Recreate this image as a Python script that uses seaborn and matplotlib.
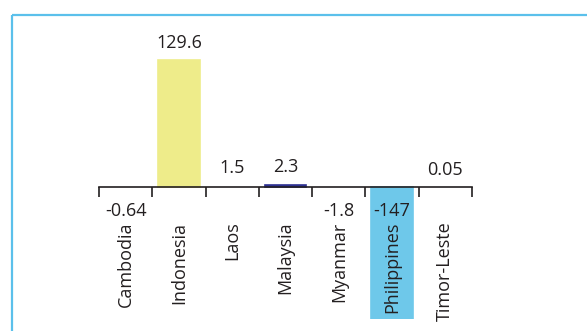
import matplotlib
matplotlib.use("Agg")
import matplotlib.pyplot as plt
from matplotlib.lines import Line2D
import seaborn as sns
import pandas as pd

# Net change by country
countries = ["Cambodia", "Indonesia", "Laos", "Malaysia", "Myanmar", "Philippines", "Timor-Leste"]
values = [-0.64, 129.6, 1.5, 2.3, -1.8, -147, 0.05]
value_labels = ["-0.64", "129.6", "1.5", "2.3", "-1.8", "-147", "0.05"]
bar_colors = ["#FFFFFF", "#EEEC8A", "#FFFFFF", "#2E3192", "#FFFFFF", "#6EC8EA", "#FFFFFF"]

sns.set_theme(style="white")
plt.rcParams["font.family"] = ["Open Sans", "DejaVu Sans"]
text_color = "#231F20"

df = pd.DataFrame({"country": countries, "value": values})

fig = plt.figure(figsize=(5.87, 3.31), dpi=100)
fig.patch.set_facecolor("white")

# Light blue frame along the left and top edges
frame_color = "#5BC0EB"
fig.add_artist(Line2D([12 / 587, 12 / 587], [0, 1 - 15 / 331], transform=fig.transFigure,
                      color=frame_color, lw=1.6, solid_capstyle="butt"))
fig.add_artist(Line2D([12 / 587, 1], [1 - 15 / 331, 1 - 15 / 331], transform=fig.transFigure,
                      color=frame_color, lw=1.6, solid_capstyle="butt"))

ax = fig.add_axes([99 / 587, 12 / 331, 373 / 587, 304 / 331])
ax.set_facecolor("none")

sns.barplot(data=df, x="country", y="value", hue="country",
            palette=dict(zip(countries, bar_colors)), legend=False,
            width=0.78, saturation=1, ax=ax)

# Outline each bar in its own colour so the thin ones stay visible
for patch, c in zip(ax.patches, bar_colors):
    patch.set_edgecolor(c)
    patch.set_linewidth(1.2)
    patch.set_zorder(1)

ax.set_axisbelow(False)
ax.set_xlim(-0.5, len(countries) - 0.5)
ax.set_ylim(-134.7, 175.5)

for s in ["top", "right", "left"]:
    ax.spines[s].set_visible(False)
ax.spines["bottom"].set_position(("data", 0))
ax.spines["bottom"].set_color(text_color)
ax.spines["bottom"].set_linewidth(1.2)
ax.spines["bottom"].set_zorder(3)

ax.set_yticks([])
ax.set_xlabel("")
ax.set_ylabel("")

# Ticks at category boundaries, names centred between them
ax.set_xticks([i - 0.5 for i in range(len(countries) + 1)])
ax.set_xticklabels([])
ax.tick_params(axis="x", which="major", direction="out", length=7.2,
               width=1.2, color=text_color, bottom=True)
ax.set_xticks(range(len(countries)), minor=True)
ax.set_xticklabels(countries, minor=True, rotation=90, fontsize=13, color=text_color)
ax.tick_params(axis="x", which="minor", length=0, pad=25)

# Value labels
for i, (v, lab) in enumerate(zip(values, value_labels)):
    if v >= 0:
        ax.annotate(lab, (i, v), xytext=(0, 12.5), textcoords="offset points",
                    ha="center", va="center", fontsize=13, color=text_color, zorder=4)
    else:
        ax.annotate(lab, (i, 0), xytext=(0, -17), textcoords="offset points",
                    ha="center", va="center", fontsize=13, color=text_color, zorder=4)

fig.savefig("out.png", dpi=100)
